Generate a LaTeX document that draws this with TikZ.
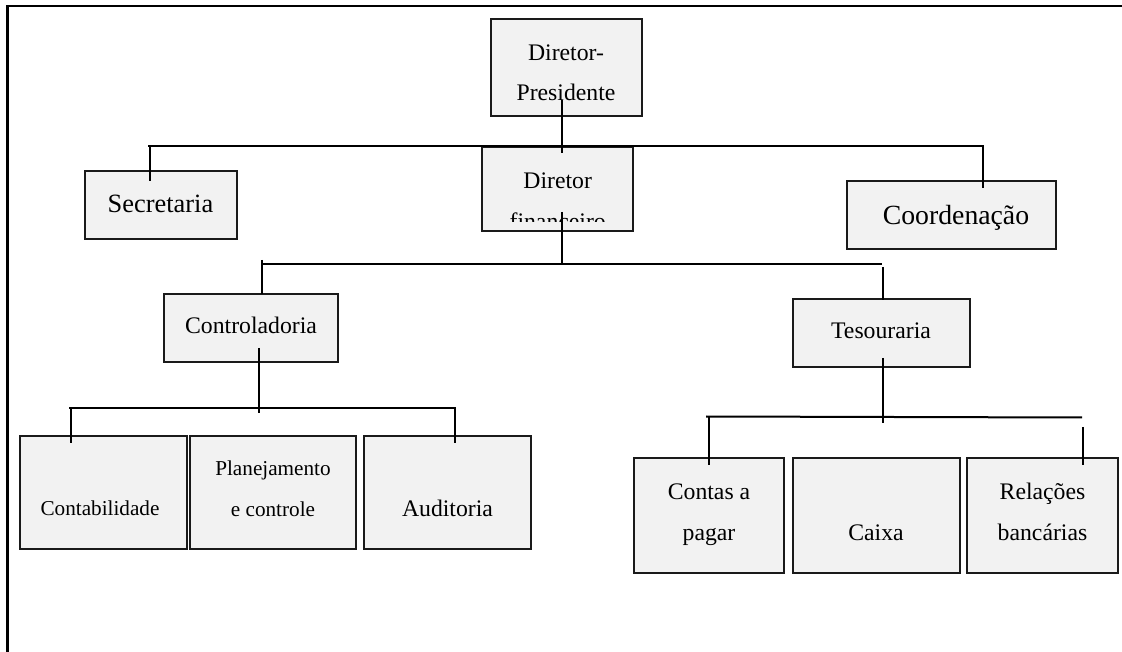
\documentclass[tikz,border=0pt]{standalone}
\usepackage{fontspec}
\setmainfont{Liberation Serif}
\definecolor{boxgray}{HTML}{F2F2F2}
\definecolor{edgegray}{HTML}{1A1A1A}
\newcommand\orgbox[5]{\node[box, anchor=north west, minimum width={(#4-#2)*0.75pt}, minimum height={(#5-#3)*0.75pt}] (#1) at (#2,#3) {};}
\begin{document}
\begin{tikzpicture}[x=0.75pt,y=-0.75pt,
  box/.style={draw=edgegray, fill=boxgray, line width=1.5pt, inner sep=0pt, outer sep=0pt},
  lbl/.style={anchor=base, inner sep=0pt, font=\fontsize{17.8}{20}\selectfont},
  lblbig/.style={lbl, font=\fontsize{19.8}{22}\selectfont},
  lblhuge/.style={lbl, font=\fontsize{20.8}{23}\selectfont},
  lblsmall/.style={lbl, font=\fontsize{15.9}{18}\selectfont},
  conn/.style={line width=1.5pt, black},
  frame/.style={line width=1.6pt, black},
]
\useasboundingbox (0,0) rectangle (1122,652);

% frame
\coordinate (fA) at (7.5,652);
\coordinate (fB) at (7.5,6);
\coordinate (fC) at (1122,6);
\draw[frame] (fA) -- (fB) -- (fC);

% boxes
\orgbox{pres}{490.5}{19.5}{641.5}{116.5}
\orgbox{sec}{85}{171.5}{236.5}{239}
\orgbox{fin}{482}{147}{633}{231}
\orgbox{coord}{847}{181.5}{1056}{249}
\orgbox{ctrl}{164}{294}{338}{362}
\orgbox{tes}{792.5}{299.5}{969.5}{367}
\orgbox{cont}{19.5}{436}{186.5}{549}
\orgbox{plan}{189.5}{436}{356}{549}
\orgbox{aud}{364}{436}{530.5}{549}
\orgbox{pag}{633.5}{458.5}{784}{572.5}
\orgbox{cx}{792.5}{458.5}{959.5}{572.5}
\orgbox{rel}{967}{458.5}{1118}{572.5}

% texts
\node[lbl] (presA) at (566,61) {Diretor-};
\node[lbl] (presB) at (566,100.5) {Presidente};
\node[lblbig] (secT) at (160.5,212.5) {Secretaria};
\node[lbl] (finA) at (557.7,188.3) {Diretor};
\begin{scope}
  \clip (482,147) rectangle (633,221.5);
  \node[lbl] (finB) at (557.7,229.5) {financeiro};
\end{scope}
\node[lblhuge] (coordT) at (956,224.5) {Coordenação};
\node[lbl] (ctrlT) at (251,334) {Controladoria};
\node[lbl] (tesT) at (881,339) {Tesouraria};
\node[lblsmall] (contT) at (100,515.7) {Contabilidade};
\node[lblsmall] (planA) at (273,475) {Planejamento};
\node[lblsmall] (planB) at (273,516.7) {e controle};
\node[lbl] (audT) at (447.5,516.7) {Auditoria};
\node[lbl] (pagA) at (709,499.3) {Contas a};
\node[lbl] (pagB) at (709,540.7) {pagar};
\node[lbl] (cxT) at (876,540.7) {Caixa};
\node[lbl] (relA) at (1042.5,499.3) {Relações};
\node[lbl] (relB) at (1042.5,540.7) {bancárias};

% connector points
\coordinate (p1) at (561.7,100);
\coordinate (p2) at (561.7,153);
\coordinate (h1a) at (148,146);
\coordinate (h1b) at (983.5,146);
\coordinate (s1) at (149.5,146);
\coordinate (s2) at (149.5,181);
\coordinate (c1) at (983,146);
\coordinate (c2) at (983,188.5);
\coordinate (f1) at (562,212);
\coordinate (f2) at (562,265);
\coordinate (h2a) at (261,264);
\coordinate (h2b) at (882,264);
\coordinate (k1) at (261.5,260);
\coordinate (k2) at (261.5,294);
\coordinate (t1) at (882.5,267);
\coordinate (t2) at (882.5,300.5);
\coordinate (k3) at (258.5,348);
\coordinate (k4) at (258.5,413);
\coordinate (h3a) at (69,408);
\coordinate (h3b) at (456,408);
\coordinate (a1) at (71,408);
\coordinate (a2) at (71,443);
\coordinate (b1) at (455,408);
\coordinate (b2) at (455,443);
\coordinate (t3) at (882.5,358);
\coordinate (t4) at (882.5,423);
\coordinate (h4a) at (706,416.5);
\coordinate (h4b) at (1082,417.5);
\coordinate (d1) at (708.5,417);
\coordinate (d2) at (708.5,465);
\coordinate (e1) at (1083,427);
\coordinate (e2) at (1083,465);

\draw[conn] (p1) -- (p2);
\draw[conn] (h1a) -- (h1b);
\draw[conn] (s1) -- (s2);
\draw[conn] (c1) -- (c2);
\draw[conn] (f1) -- (f2);
\draw[conn] (h2a) -- (h2b);
\draw[conn] (k1) -- (k2);
\draw[conn] (t1) -- (t2);
\draw[conn] (k3) -- (k4);
\draw[conn] (h3a) -- (h3b);
\draw[conn] (a1) -- (a2);
\draw[conn] (b1) -- (b2);
\draw[conn] (t3) -- (t4);
\draw[conn] (h4a) -- (h4b);
\draw[conn] (d1) -- (d2);
\draw[conn] (e1) -- (e2);
\end{tikzpicture}
\end{document}
